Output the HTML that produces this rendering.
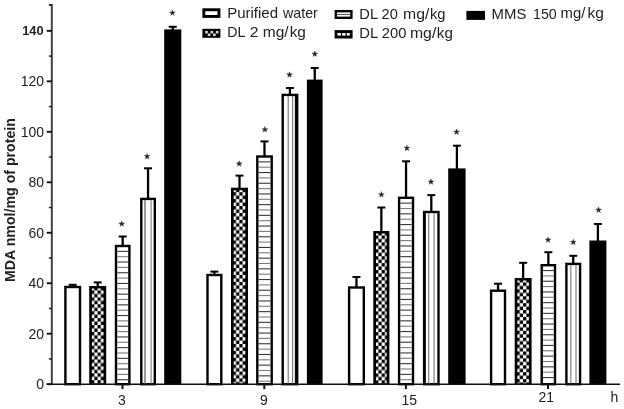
<!DOCTYPE html>
<html><head><meta charset="utf-8"><title>MDA chart</title>
<style>html,body{margin:0;padding:0;background:#fff;}body{width:624px;height:409px;overflow:hidden;}svg{display:block;}text{font-family:"Liberation Sans",sans-serif;fill:#222;}</style>
</head><body>
<svg width="624" height="409" viewBox="0 0 624 409">
<defs>
<pattern id="chk" width="6.6" height="6.9" patternUnits="userSpaceOnUse" x="-0.95" y="-5.0"><rect width="6.6" height="6.9" fill="#fff"/><rect x="0" y="0" width="3.3" height="3.45" fill="#000"/><rect x="3.3" y="3.45" width="3.3" height="3.45" fill="#000"/></pattern>
</defs>
<rect width="624" height="409" fill="#fff"/>
<g style="opacity:0.999">
<line x1="72.70" y1="284.80" x2="72.70" y2="286.80" stroke="#000" stroke-width="2.3"/>
<line x1="68.70" y1="284.80" x2="76.70" y2="284.80" stroke="#000" stroke-width="2"/>
<rect x="65.40" y="287.00" width="14.60" height="97.20" fill="#fff" stroke="#000" stroke-width="2.4"/>
<line x1="97.70" y1="282.40" x2="97.70" y2="287.00" stroke="#000" stroke-width="2.3"/>
<line x1="93.70" y1="282.40" x2="101.70" y2="282.40" stroke="#000" stroke-width="2"/>
<rect x="89.20" y="286.00" width="17.00" height="98.20" fill="#000"/>
<svg x="91.90" y="288.60" width="11.60" height="95.00" overflow="hidden"><rect x="-2" y="-6" width="30" height="400" fill="url(#chk)"/></svg>
<line x1="122.70" y1="236.50" x2="122.70" y2="245.80" stroke="#000" stroke-width="2.3"/>
<line x1="118.70" y1="236.50" x2="126.70" y2="236.50" stroke="#000" stroke-width="2"/>
<rect x="116.00" y="246.00" width="13.40" height="138.20" fill="#fff" stroke="#000" stroke-width="2.4"/>
<line x1="117.20" y1="251.35" x2="128.20" y2="251.35" stroke="#383838" stroke-width="1.1"/>
<line x1="117.20" y1="256.70" x2="128.20" y2="256.70" stroke="#7a7a7a" stroke-width="1.1"/>
<line x1="117.20" y1="262.05" x2="128.20" y2="262.05" stroke="#383838" stroke-width="1.1"/>
<line x1="117.20" y1="267.40" x2="128.20" y2="267.40" stroke="#7a7a7a" stroke-width="1.1"/>
<line x1="117.20" y1="272.75" x2="128.20" y2="272.75" stroke="#383838" stroke-width="1.1"/>
<line x1="117.20" y1="278.10" x2="128.20" y2="278.10" stroke="#7a7a7a" stroke-width="1.1"/>
<line x1="117.20" y1="283.45" x2="128.20" y2="283.45" stroke="#383838" stroke-width="1.1"/>
<line x1="117.20" y1="288.80" x2="128.20" y2="288.80" stroke="#7a7a7a" stroke-width="1.1"/>
<line x1="117.20" y1="294.15" x2="128.20" y2="294.15" stroke="#383838" stroke-width="1.1"/>
<line x1="117.20" y1="299.50" x2="128.20" y2="299.50" stroke="#7a7a7a" stroke-width="1.1"/>
<line x1="117.20" y1="304.85" x2="128.20" y2="304.85" stroke="#383838" stroke-width="1.1"/>
<line x1="117.20" y1="310.20" x2="128.20" y2="310.20" stroke="#7a7a7a" stroke-width="1.1"/>
<line x1="117.20" y1="315.55" x2="128.20" y2="315.55" stroke="#383838" stroke-width="1.1"/>
<line x1="117.20" y1="320.90" x2="128.20" y2="320.90" stroke="#7a7a7a" stroke-width="1.1"/>
<line x1="117.20" y1="326.25" x2="128.20" y2="326.25" stroke="#383838" stroke-width="1.1"/>
<line x1="117.20" y1="331.60" x2="128.20" y2="331.60" stroke="#7a7a7a" stroke-width="1.1"/>
<line x1="117.20" y1="336.95" x2="128.20" y2="336.95" stroke="#383838" stroke-width="1.1"/>
<line x1="117.20" y1="342.30" x2="128.20" y2="342.30" stroke="#7a7a7a" stroke-width="1.1"/>
<line x1="117.20" y1="347.65" x2="128.20" y2="347.65" stroke="#383838" stroke-width="1.1"/>
<line x1="117.20" y1="353.00" x2="128.20" y2="353.00" stroke="#7a7a7a" stroke-width="1.1"/>
<line x1="117.20" y1="358.35" x2="128.20" y2="358.35" stroke="#383838" stroke-width="1.1"/>
<line x1="117.20" y1="363.70" x2="128.20" y2="363.70" stroke="#7a7a7a" stroke-width="1.1"/>
<line x1="117.20" y1="369.05" x2="128.20" y2="369.05" stroke="#383838" stroke-width="1.1"/>
<line x1="117.20" y1="374.40" x2="128.20" y2="374.40" stroke="#7a7a7a" stroke-width="1.1"/>
<line x1="117.20" y1="379.75" x2="128.20" y2="379.75" stroke="#383838" stroke-width="1.1"/>
<polygon points="121.70,220.90 122.41,222.93 124.55,222.97 122.84,224.27 123.46,226.33 121.70,225.10 119.94,226.33 120.56,224.27 118.85,222.97 120.99,222.93" fill="#262626" stroke="#262626" stroke-width="0.4" stroke-linejoin="round"/>
<line x1="148.05" y1="168.30" x2="148.05" y2="198.70" stroke="#000" stroke-width="2.3"/>
<line x1="144.05" y1="168.30" x2="152.05" y2="168.30" stroke="#000" stroke-width="2"/>
<rect x="141.30" y="198.90" width="13.50" height="185.30" fill="#fff" stroke="#000" stroke-width="2.4"/>
<line x1="145.00" y1="200.10" x2="145.00" y2="384.20" stroke="#8a8a8a" stroke-width="1.7"/>
<line x1="151.10" y1="200.10" x2="151.10" y2="384.20" stroke="#777" stroke-width="1.0"/>
<polygon points="147.10,153.50 147.81,155.53 149.95,155.57 148.24,156.87 148.86,158.93 147.10,157.70 145.34,158.93 145.96,156.87 144.25,155.57 146.39,155.53" fill="#262626" stroke="#262626" stroke-width="0.4" stroke-linejoin="round"/>
<line x1="172.75" y1="26.80" x2="172.75" y2="30.40" stroke="#000" stroke-width="2.3"/>
<line x1="168.75" y1="26.80" x2="176.75" y2="26.80" stroke="#000" stroke-width="2"/>
<rect x="164.20" y="29.40" width="17.10" height="354.80" fill="#000"/>
<polygon points="172.40,9.90 173.11,11.93 175.25,11.97 173.54,13.27 174.16,15.33 172.40,14.10 170.64,15.33 171.26,13.27 169.55,11.97 171.69,11.93" fill="#262626" stroke="#262626" stroke-width="0.4" stroke-linejoin="round"/>
<line x1="214.40" y1="271.60" x2="214.40" y2="274.80" stroke="#000" stroke-width="2.3"/>
<line x1="210.40" y1="271.60" x2="218.40" y2="271.60" stroke="#000" stroke-width="2"/>
<rect x="207.50" y="275.00" width="13.80" height="109.20" fill="#fff" stroke="#000" stroke-width="2.4"/>
<line x1="239.50" y1="175.60" x2="239.50" y2="188.70" stroke="#000" stroke-width="2.3"/>
<line x1="235.50" y1="175.60" x2="243.50" y2="175.60" stroke="#000" stroke-width="2"/>
<rect x="231.00" y="187.70" width="17.00" height="196.50" fill="#000"/>
<svg x="233.70" y="190.30" width="11.60" height="193.30" overflow="hidden"><rect x="-2" y="-6" width="30" height="400" fill="url(#chk)"/></svg>
<polygon points="239.20,160.80 239.91,162.83 242.05,162.87 240.34,164.17 240.96,166.23 239.20,165.00 237.44,166.23 238.06,164.17 236.35,162.87 238.49,162.83" fill="#262626" stroke="#262626" stroke-width="0.4" stroke-linejoin="round"/>
<line x1="264.50" y1="141.40" x2="264.50" y2="156.30" stroke="#000" stroke-width="2.3"/>
<line x1="260.50" y1="141.40" x2="268.50" y2="141.40" stroke="#000" stroke-width="2"/>
<rect x="257.30" y="156.50" width="14.40" height="227.70" fill="#fff" stroke="#000" stroke-width="2.4"/>
<line x1="258.50" y1="161.85" x2="270.50" y2="161.85" stroke="#383838" stroke-width="1.1"/>
<line x1="258.50" y1="167.20" x2="270.50" y2="167.20" stroke="#7a7a7a" stroke-width="1.1"/>
<line x1="258.50" y1="172.55" x2="270.50" y2="172.55" stroke="#383838" stroke-width="1.1"/>
<line x1="258.50" y1="177.90" x2="270.50" y2="177.90" stroke="#7a7a7a" stroke-width="1.1"/>
<line x1="258.50" y1="183.25" x2="270.50" y2="183.25" stroke="#383838" stroke-width="1.1"/>
<line x1="258.50" y1="188.60" x2="270.50" y2="188.60" stroke="#7a7a7a" stroke-width="1.1"/>
<line x1="258.50" y1="193.95" x2="270.50" y2="193.95" stroke="#383838" stroke-width="1.1"/>
<line x1="258.50" y1="199.30" x2="270.50" y2="199.30" stroke="#7a7a7a" stroke-width="1.1"/>
<line x1="258.50" y1="204.65" x2="270.50" y2="204.65" stroke="#383838" stroke-width="1.1"/>
<line x1="258.50" y1="210.00" x2="270.50" y2="210.00" stroke="#7a7a7a" stroke-width="1.1"/>
<line x1="258.50" y1="215.35" x2="270.50" y2="215.35" stroke="#383838" stroke-width="1.1"/>
<line x1="258.50" y1="220.70" x2="270.50" y2="220.70" stroke="#7a7a7a" stroke-width="1.1"/>
<line x1="258.50" y1="226.05" x2="270.50" y2="226.05" stroke="#383838" stroke-width="1.1"/>
<line x1="258.50" y1="231.40" x2="270.50" y2="231.40" stroke="#7a7a7a" stroke-width="1.1"/>
<line x1="258.50" y1="236.75" x2="270.50" y2="236.75" stroke="#383838" stroke-width="1.1"/>
<line x1="258.50" y1="242.10" x2="270.50" y2="242.10" stroke="#7a7a7a" stroke-width="1.1"/>
<line x1="258.50" y1="247.45" x2="270.50" y2="247.45" stroke="#383838" stroke-width="1.1"/>
<line x1="258.50" y1="252.80" x2="270.50" y2="252.80" stroke="#7a7a7a" stroke-width="1.1"/>
<line x1="258.50" y1="258.15" x2="270.50" y2="258.15" stroke="#383838" stroke-width="1.1"/>
<line x1="258.50" y1="263.50" x2="270.50" y2="263.50" stroke="#7a7a7a" stroke-width="1.1"/>
<line x1="258.50" y1="268.85" x2="270.50" y2="268.85" stroke="#383838" stroke-width="1.1"/>
<line x1="258.50" y1="274.20" x2="270.50" y2="274.20" stroke="#7a7a7a" stroke-width="1.1"/>
<line x1="258.50" y1="279.55" x2="270.50" y2="279.55" stroke="#383838" stroke-width="1.1"/>
<line x1="258.50" y1="284.90" x2="270.50" y2="284.90" stroke="#7a7a7a" stroke-width="1.1"/>
<line x1="258.50" y1="290.25" x2="270.50" y2="290.25" stroke="#383838" stroke-width="1.1"/>
<line x1="258.50" y1="295.60" x2="270.50" y2="295.60" stroke="#7a7a7a" stroke-width="1.1"/>
<line x1="258.50" y1="300.95" x2="270.50" y2="300.95" stroke="#383838" stroke-width="1.1"/>
<line x1="258.50" y1="306.30" x2="270.50" y2="306.30" stroke="#7a7a7a" stroke-width="1.1"/>
<line x1="258.50" y1="311.65" x2="270.50" y2="311.65" stroke="#383838" stroke-width="1.1"/>
<line x1="258.50" y1="317.00" x2="270.50" y2="317.00" stroke="#7a7a7a" stroke-width="1.1"/>
<line x1="258.50" y1="322.35" x2="270.50" y2="322.35" stroke="#383838" stroke-width="1.1"/>
<line x1="258.50" y1="327.70" x2="270.50" y2="327.70" stroke="#7a7a7a" stroke-width="1.1"/>
<line x1="258.50" y1="333.05" x2="270.50" y2="333.05" stroke="#383838" stroke-width="1.1"/>
<line x1="258.50" y1="338.40" x2="270.50" y2="338.40" stroke="#7a7a7a" stroke-width="1.1"/>
<line x1="258.50" y1="343.75" x2="270.50" y2="343.75" stroke="#383838" stroke-width="1.1"/>
<line x1="258.50" y1="349.10" x2="270.50" y2="349.10" stroke="#7a7a7a" stroke-width="1.1"/>
<line x1="258.50" y1="354.45" x2="270.50" y2="354.45" stroke="#383838" stroke-width="1.1"/>
<line x1="258.50" y1="359.80" x2="270.50" y2="359.80" stroke="#7a7a7a" stroke-width="1.1"/>
<line x1="258.50" y1="365.15" x2="270.50" y2="365.15" stroke="#383838" stroke-width="1.1"/>
<line x1="258.50" y1="370.50" x2="270.50" y2="370.50" stroke="#7a7a7a" stroke-width="1.1"/>
<line x1="258.50" y1="375.85" x2="270.50" y2="375.85" stroke="#383838" stroke-width="1.1"/>
<line x1="258.50" y1="381.20" x2="270.50" y2="381.20" stroke="#7a7a7a" stroke-width="1.1"/>
<polygon points="264.90,126.60 265.61,128.63 267.75,128.67 266.04,129.97 266.66,132.03 264.90,130.80 263.14,132.03 263.76,129.97 262.05,128.67 264.19,128.63" fill="#262626" stroke="#262626" stroke-width="0.4" stroke-linejoin="round"/>
<line x1="289.95" y1="88.00" x2="289.95" y2="94.70" stroke="#000" stroke-width="2.3"/>
<line x1="285.95" y1="88.00" x2="293.95" y2="88.00" stroke="#000" stroke-width="2"/>
<rect x="282.70" y="94.90" width="14.50" height="289.30" fill="#fff" stroke="#000" stroke-width="2.4"/>
<line x1="288.20" y1="96.10" x2="288.20" y2="384.20" stroke="#777" stroke-width="1.1"/>
<line x1="292.60" y1="96.10" x2="292.60" y2="384.20" stroke="#777" stroke-width="1.1"/>
<line x1="295.40" y1="96.10" x2="295.40" y2="384.20" stroke="#000" stroke-width="1.1"/>
<polygon points="289.50,71.80 290.21,73.83 292.35,73.87 290.64,75.17 291.26,77.23 289.50,76.00 287.74,77.23 288.36,75.17 286.65,73.87 288.79,73.83" fill="#262626" stroke="#262626" stroke-width="0.4" stroke-linejoin="round"/>
<line x1="314.75" y1="68.00" x2="314.75" y2="80.60" stroke="#000" stroke-width="2.3"/>
<line x1="310.75" y1="68.00" x2="318.75" y2="68.00" stroke="#000" stroke-width="2"/>
<rect x="306.90" y="79.60" width="15.70" height="304.60" fill="#000"/>
<polygon points="314.80,51.00 315.51,53.03 317.65,53.07 315.94,54.37 316.56,56.43 314.80,55.20 313.04,56.43 313.66,54.37 311.95,53.07 314.09,53.03" fill="#262626" stroke="#262626" stroke-width="0.4" stroke-linejoin="round"/>
<line x1="356.45" y1="277.00" x2="356.45" y2="287.30" stroke="#000" stroke-width="2.3"/>
<line x1="352.45" y1="277.00" x2="360.45" y2="277.00" stroke="#000" stroke-width="2"/>
<rect x="349.10" y="287.50" width="14.70" height="96.70" fill="#fff" stroke="#000" stroke-width="2.4"/>
<line x1="381.35" y1="207.50" x2="381.35" y2="232.00" stroke="#000" stroke-width="2.3"/>
<line x1="377.35" y1="207.50" x2="385.35" y2="207.50" stroke="#000" stroke-width="2"/>
<rect x="373.30" y="231.00" width="16.10" height="153.20" fill="#000"/>
<svg x="376.00" y="233.60" width="10.70" height="150.00" overflow="hidden"><rect x="-2" y="-6" width="30" height="400" fill="url(#chk)"/></svg>
<polygon points="381.40,191.60 382.11,193.63 384.25,193.67 382.54,194.97 383.16,197.03 381.40,195.80 379.64,197.03 380.26,194.97 378.55,193.67 380.69,193.63" fill="#262626" stroke="#262626" stroke-width="0.4" stroke-linejoin="round"/>
<line x1="406.05" y1="161.30" x2="406.05" y2="197.60" stroke="#000" stroke-width="2.3"/>
<line x1="402.05" y1="161.30" x2="410.05" y2="161.30" stroke="#000" stroke-width="2"/>
<rect x="399.10" y="197.80" width="13.90" height="186.40" fill="#fff" stroke="#000" stroke-width="2.4"/>
<line x1="400.30" y1="203.15" x2="411.80" y2="203.15" stroke="#383838" stroke-width="1.1"/>
<line x1="400.30" y1="208.50" x2="411.80" y2="208.50" stroke="#7a7a7a" stroke-width="1.1"/>
<line x1="400.30" y1="213.85" x2="411.80" y2="213.85" stroke="#383838" stroke-width="1.1"/>
<line x1="400.30" y1="219.20" x2="411.80" y2="219.20" stroke="#7a7a7a" stroke-width="1.1"/>
<line x1="400.30" y1="224.55" x2="411.80" y2="224.55" stroke="#383838" stroke-width="1.1"/>
<line x1="400.30" y1="229.90" x2="411.80" y2="229.90" stroke="#7a7a7a" stroke-width="1.1"/>
<line x1="400.30" y1="235.25" x2="411.80" y2="235.25" stroke="#383838" stroke-width="1.1"/>
<line x1="400.30" y1="240.60" x2="411.80" y2="240.60" stroke="#7a7a7a" stroke-width="1.1"/>
<line x1="400.30" y1="245.95" x2="411.80" y2="245.95" stroke="#383838" stroke-width="1.1"/>
<line x1="400.30" y1="251.30" x2="411.80" y2="251.30" stroke="#7a7a7a" stroke-width="1.1"/>
<line x1="400.30" y1="256.65" x2="411.80" y2="256.65" stroke="#383838" stroke-width="1.1"/>
<line x1="400.30" y1="262.00" x2="411.80" y2="262.00" stroke="#7a7a7a" stroke-width="1.1"/>
<line x1="400.30" y1="267.35" x2="411.80" y2="267.35" stroke="#383838" stroke-width="1.1"/>
<line x1="400.30" y1="272.70" x2="411.80" y2="272.70" stroke="#7a7a7a" stroke-width="1.1"/>
<line x1="400.30" y1="278.05" x2="411.80" y2="278.05" stroke="#383838" stroke-width="1.1"/>
<line x1="400.30" y1="283.40" x2="411.80" y2="283.40" stroke="#7a7a7a" stroke-width="1.1"/>
<line x1="400.30" y1="288.75" x2="411.80" y2="288.75" stroke="#383838" stroke-width="1.1"/>
<line x1="400.30" y1="294.10" x2="411.80" y2="294.10" stroke="#7a7a7a" stroke-width="1.1"/>
<line x1="400.30" y1="299.45" x2="411.80" y2="299.45" stroke="#383838" stroke-width="1.1"/>
<line x1="400.30" y1="304.80" x2="411.80" y2="304.80" stroke="#7a7a7a" stroke-width="1.1"/>
<line x1="400.30" y1="310.15" x2="411.80" y2="310.15" stroke="#383838" stroke-width="1.1"/>
<line x1="400.30" y1="315.50" x2="411.80" y2="315.50" stroke="#7a7a7a" stroke-width="1.1"/>
<line x1="400.30" y1="320.85" x2="411.80" y2="320.85" stroke="#383838" stroke-width="1.1"/>
<line x1="400.30" y1="326.20" x2="411.80" y2="326.20" stroke="#7a7a7a" stroke-width="1.1"/>
<line x1="400.30" y1="331.55" x2="411.80" y2="331.55" stroke="#383838" stroke-width="1.1"/>
<line x1="400.30" y1="336.90" x2="411.80" y2="336.90" stroke="#7a7a7a" stroke-width="1.1"/>
<line x1="400.30" y1="342.25" x2="411.80" y2="342.25" stroke="#383838" stroke-width="1.1"/>
<line x1="400.30" y1="347.60" x2="411.80" y2="347.60" stroke="#7a7a7a" stroke-width="1.1"/>
<line x1="400.30" y1="352.95" x2="411.80" y2="352.95" stroke="#383838" stroke-width="1.1"/>
<line x1="400.30" y1="358.30" x2="411.80" y2="358.30" stroke="#7a7a7a" stroke-width="1.1"/>
<line x1="400.30" y1="363.65" x2="411.80" y2="363.65" stroke="#383838" stroke-width="1.1"/>
<line x1="400.30" y1="369.00" x2="411.80" y2="369.00" stroke="#7a7a7a" stroke-width="1.1"/>
<line x1="400.30" y1="374.35" x2="411.80" y2="374.35" stroke="#383838" stroke-width="1.1"/>
<line x1="400.30" y1="379.70" x2="411.80" y2="379.70" stroke="#7a7a7a" stroke-width="1.1"/>
<polygon points="406.90,145.20 407.61,147.23 409.75,147.27 408.04,148.57 408.66,150.63 406.90,149.40 405.14,150.63 405.76,148.57 404.05,147.27 406.19,147.23" fill="#262626" stroke="#262626" stroke-width="0.4" stroke-linejoin="round"/>
<line x1="431.30" y1="195.10" x2="431.30" y2="211.80" stroke="#000" stroke-width="2.3"/>
<line x1="427.30" y1="195.10" x2="435.30" y2="195.10" stroke="#000" stroke-width="2"/>
<rect x="424.10" y="212.00" width="14.40" height="172.20" fill="#fff" stroke="#000" stroke-width="2.4"/>
<line x1="425.50" y1="213.20" x2="425.50" y2="384.20" stroke="#000" stroke-width="0.8"/>
<line x1="428.70" y1="213.20" x2="428.70" y2="384.20" stroke="#777" stroke-width="1.1"/>
<line x1="434.10" y1="213.20" x2="434.10" y2="384.20" stroke="#777" stroke-width="1.1"/>
<polygon points="431.00,178.90 431.71,180.93 433.85,180.97 432.14,182.27 432.76,184.33 431.00,183.10 429.24,184.33 429.86,182.27 428.15,180.97 430.29,180.93" fill="#262626" stroke="#262626" stroke-width="0.4" stroke-linejoin="round"/>
<line x1="456.90" y1="145.70" x2="456.90" y2="169.40" stroke="#000" stroke-width="2.3"/>
<line x1="452.90" y1="145.70" x2="460.90" y2="145.70" stroke="#000" stroke-width="2"/>
<rect x="448.20" y="168.40" width="17.40" height="215.80" fill="#000"/>
<polygon points="456.60,129.00 457.31,131.03 459.45,131.07 457.74,132.37 458.36,134.43 456.60,133.20 454.84,134.43 455.46,132.37 453.75,131.07 455.89,131.03" fill="#262626" stroke="#262626" stroke-width="0.4" stroke-linejoin="round"/>
<line x1="498.05" y1="283.70" x2="498.05" y2="290.50" stroke="#000" stroke-width="2.3"/>
<line x1="494.05" y1="283.70" x2="502.05" y2="283.70" stroke="#000" stroke-width="2"/>
<rect x="491.10" y="290.70" width="13.90" height="93.50" fill="#fff" stroke="#000" stroke-width="2.4"/>
<line x1="523.15" y1="262.80" x2="523.15" y2="279.00" stroke="#000" stroke-width="2.3"/>
<line x1="519.15" y1="262.80" x2="527.15" y2="262.80" stroke="#000" stroke-width="2"/>
<rect x="514.70" y="278.00" width="16.90" height="106.20" fill="#000"/>
<svg x="517.40" y="280.60" width="11.50" height="103.00" overflow="hidden"><rect x="-2" y="-6" width="30" height="400" fill="url(#chk)"/></svg>
<line x1="548.35" y1="252.20" x2="548.35" y2="265.00" stroke="#000" stroke-width="2.3"/>
<line x1="544.35" y1="252.20" x2="552.35" y2="252.20" stroke="#000" stroke-width="2"/>
<rect x="541.70" y="265.20" width="13.30" height="119.00" fill="#fff" stroke="#000" stroke-width="2.4"/>
<line x1="542.90" y1="270.55" x2="553.80" y2="270.55" stroke="#383838" stroke-width="1.1"/>
<line x1="542.90" y1="275.90" x2="553.80" y2="275.90" stroke="#7a7a7a" stroke-width="1.1"/>
<line x1="542.90" y1="281.25" x2="553.80" y2="281.25" stroke="#383838" stroke-width="1.1"/>
<line x1="542.90" y1="286.60" x2="553.80" y2="286.60" stroke="#7a7a7a" stroke-width="1.1"/>
<line x1="542.90" y1="291.95" x2="553.80" y2="291.95" stroke="#383838" stroke-width="1.1"/>
<line x1="542.90" y1="297.30" x2="553.80" y2="297.30" stroke="#7a7a7a" stroke-width="1.1"/>
<line x1="542.90" y1="302.65" x2="553.80" y2="302.65" stroke="#383838" stroke-width="1.1"/>
<line x1="542.90" y1="308.00" x2="553.80" y2="308.00" stroke="#7a7a7a" stroke-width="1.1"/>
<line x1="542.90" y1="313.35" x2="553.80" y2="313.35" stroke="#383838" stroke-width="1.1"/>
<line x1="542.90" y1="318.70" x2="553.80" y2="318.70" stroke="#7a7a7a" stroke-width="1.1"/>
<line x1="542.90" y1="324.05" x2="553.80" y2="324.05" stroke="#383838" stroke-width="1.1"/>
<line x1="542.90" y1="329.40" x2="553.80" y2="329.40" stroke="#7a7a7a" stroke-width="1.1"/>
<line x1="542.90" y1="334.75" x2="553.80" y2="334.75" stroke="#383838" stroke-width="1.1"/>
<line x1="542.90" y1="340.10" x2="553.80" y2="340.10" stroke="#7a7a7a" stroke-width="1.1"/>
<line x1="542.90" y1="345.45" x2="553.80" y2="345.45" stroke="#383838" stroke-width="1.1"/>
<line x1="542.90" y1="350.80" x2="553.80" y2="350.80" stroke="#7a7a7a" stroke-width="1.1"/>
<line x1="542.90" y1="356.15" x2="553.80" y2="356.15" stroke="#383838" stroke-width="1.1"/>
<line x1="542.90" y1="361.50" x2="553.80" y2="361.50" stroke="#7a7a7a" stroke-width="1.1"/>
<line x1="542.90" y1="366.85" x2="553.80" y2="366.85" stroke="#383838" stroke-width="1.1"/>
<line x1="542.90" y1="372.20" x2="553.80" y2="372.20" stroke="#7a7a7a" stroke-width="1.1"/>
<line x1="542.90" y1="377.55" x2="553.80" y2="377.55" stroke="#383838" stroke-width="1.1"/>
<polygon points="548.10,236.90 548.81,238.93 550.95,238.97 549.24,240.27 549.86,242.33 548.10,241.10 546.34,242.33 546.96,240.27 545.25,238.97 547.39,238.93" fill="#262626" stroke="#262626" stroke-width="0.4" stroke-linejoin="round"/>
<line x1="573.25" y1="255.80" x2="573.25" y2="263.70" stroke="#000" stroke-width="2.3"/>
<line x1="569.25" y1="255.80" x2="577.25" y2="255.80" stroke="#000" stroke-width="2"/>
<rect x="566.40" y="263.90" width="13.70" height="120.30" fill="#fff" stroke="#000" stroke-width="2.4"/>
<line x1="570.80" y1="265.10" x2="570.80" y2="384.20" stroke="#777" stroke-width="1.1"/>
<line x1="576.00" y1="265.10" x2="576.00" y2="384.20" stroke="#777" stroke-width="1.1"/>
<polygon points="573.30,239.20 574.01,241.23 576.15,241.27 574.44,242.57 575.06,244.63 573.30,243.40 571.54,244.63 572.16,242.57 570.45,241.27 572.59,241.23" fill="#262626" stroke="#262626" stroke-width="0.4" stroke-linejoin="round"/>
<line x1="597.90" y1="224.00" x2="597.90" y2="241.50" stroke="#000" stroke-width="2.3"/>
<line x1="593.90" y1="224.00" x2="601.90" y2="224.00" stroke="#000" stroke-width="2"/>
<rect x="589.40" y="240.50" width="17.00" height="143.70" fill="#000"/>
<polygon points="598.60,207.00 599.31,209.03 601.45,209.07 599.74,210.37 600.36,212.43 598.60,211.20 596.84,212.43 597.46,210.37 595.75,209.07 597.89,209.03" fill="#262626" stroke="#262626" stroke-width="0.4" stroke-linejoin="round"/>
<line x1="51.8" y1="4" x2="51.8" y2="385.00" stroke="#3a3a3a" stroke-width="1.9"/>
<line x1="46.8" y1="384.2" x2="620" y2="384.2" stroke="#111" stroke-width="1.6"/>
<line x1="46.7" y1="384.20" x2="52" y2="384.20" stroke="#111" stroke-width="1.9"/>
<line x1="46.7" y1="333.72" x2="52" y2="333.72" stroke="#111" stroke-width="1.9"/>
<line x1="46.7" y1="283.24" x2="52" y2="283.24" stroke="#111" stroke-width="1.9"/>
<line x1="46.7" y1="232.76" x2="52" y2="232.76" stroke="#111" stroke-width="1.9"/>
<line x1="46.7" y1="182.28" x2="52" y2="182.28" stroke="#111" stroke-width="1.9"/>
<line x1="46.7" y1="131.80" x2="52" y2="131.80" stroke="#111" stroke-width="1.9"/>
<line x1="46.7" y1="81.32" x2="52" y2="81.32" stroke="#111" stroke-width="1.9"/>
<line x1="46.7" y1="30.84" x2="52" y2="30.84" stroke="#111" stroke-width="1.9"/>
<line x1="48.9" y1="358.96" x2="52" y2="358.96" stroke="#222" stroke-width="1.5"/>
<line x1="48.9" y1="308.48" x2="52" y2="308.48" stroke="#222" stroke-width="1.5"/>
<line x1="48.9" y1="258.00" x2="52" y2="258.00" stroke="#222" stroke-width="1.5"/>
<line x1="48.9" y1="207.52" x2="52" y2="207.52" stroke="#222" stroke-width="1.5"/>
<line x1="48.9" y1="157.04" x2="52" y2="157.04" stroke="#222" stroke-width="1.5"/>
<line x1="48.9" y1="106.56" x2="52" y2="106.56" stroke="#222" stroke-width="1.5"/>
<line x1="48.9" y1="56.08" x2="52" y2="56.08" stroke="#222" stroke-width="1.5"/>
<line x1="48.9" y1="4.90" x2="52" y2="4.90" stroke="#222" stroke-width="1.9"/>
<text x="44.0" y="389.10" font-size="14" text-anchor="end" fill="#333">0</text>
<text x="44.0" y="338.62" font-size="14" text-anchor="end" fill="#333">20</text>
<text x="44.0" y="288.14" font-size="14" text-anchor="end" fill="#333">40</text>
<text x="44.0" y="237.66" font-size="14" text-anchor="end" fill="#333">60</text>
<text x="44.0" y="187.18" font-size="14" text-anchor="end" fill="#333">80</text>
<text x="44.0" y="136.70" font-size="14" text-anchor="end" fill="#333">100</text>
<text x="44.0" y="86.22" font-size="14" text-anchor="end" fill="#333">120</text>
<text transform="translate(43.6,35.04) scale(1.07,1)" font-size="12" font-weight="bold" text-anchor="end" fill="#222">140</text>
<line x1="122.50" y1="384.2" x2="122.50" y2="389.1" stroke="#111" stroke-width="2"/>
<text x="122.00" y="404.7" font-size="14" text-anchor="middle" fill="#333">3</text>
<line x1="264.30" y1="384.2" x2="264.30" y2="389.1" stroke="#111" stroke-width="2"/>
<text x="264.00" y="404.6" font-size="14" text-anchor="middle" fill="#333">9</text>
<line x1="405.90" y1="384.2" x2="405.90" y2="389.1" stroke="#111" stroke-width="2"/>
<text x="409.30" y="404.7" font-size="14" text-anchor="middle" fill="#333">15</text>
<line x1="548.00" y1="384.2" x2="548.00" y2="389.1" stroke="#111" stroke-width="2"/>
<text x="546.30" y="402.2" font-size="14" text-anchor="middle" fill="#333">21</text>
<text x="614.3" y="402.2" font-size="14" text-anchor="middle" fill="#333">h</text>
<text transform="translate(15.2,200.0) rotate(-90) scale(1.012,1)" font-size="14" font-weight="bold" text-anchor="middle" fill="#111">MDA nmol/mg of protein</text>
<rect x="203.85" y="9.75" width="15.1" height="6.699999999999999" fill="#fff" stroke="#000" stroke-width="2.9"/>
<rect x="202.4" y="28.8" width="18" height="9.0" fill="#000"/>
<rect x="205.15" y="30.90" width="2.7" height="2.6" fill="#d0d0d0"/>
<rect x="210.45" y="30.90" width="2.7" height="2.6" fill="#d0d0d0"/>
<rect x="215.85" y="30.90" width="2.7" height="2.6" fill="#d0d0d0"/>
<rect x="207.75" y="33.50" width="2.7" height="2.6" fill="#d0d0d0"/>
<rect x="213.05" y="33.50" width="2.7" height="2.6" fill="#d0d0d0"/>
<rect x="335.8" y="11.2" width="15.6" height="6.6" fill="#fff" stroke="#000" stroke-width="2.4"/>
<line x1="337.0" y1="14.5" x2="350.20000000000005" y2="14.5" stroke="#555" stroke-width="1.1"/>
<rect x="336.05" y="31.55" width="15.1" height="5.5" fill="#fff" stroke="#000" stroke-width="2.9"/>
<line x1="341.5" y1="32.7" x2="341.5" y2="35.9" stroke="#000" stroke-width="1.2"/>
<line x1="346.20000000000005" y1="32.7" x2="346.20000000000005" y2="35.9" stroke="#000" stroke-width="1.2"/>
<rect x="466.4" y="10.9" width="18.6" height="9.0" fill="#000"/>
<text transform="translate(227.21,18.4) scale(1.034,0.975)" font-size="14.5" fill="#222">Purified</text>
<text transform="translate(283.08,18.4) scale(0.980,0.975)" font-size="14.5" fill="#222">water</text>
<text transform="translate(227.17,37.3) scale(0.980,0.975)" font-size="14.5" fill="#222">DL</text>
<text transform="translate(249.82,37.3) scale(1.090,0.975)" font-size="14.5" fill="#222">2</text>
<text transform="translate(262.73,37.3) scale(1.072,0.975)" font-size="14.5" fill="#222">mg/</text>
<text transform="translate(289.64,37.3) scale(1.062,0.975)" font-size="14.5" fill="#222">kg</text>
<text transform="translate(359.34,18.6) scale(1.009,0.975)" font-size="14.5" fill="#222">DL 20</text>
<text transform="translate(403.08,18.6) scale(1.090,0.975)" font-size="14.5" fill="#222">mg/</text>
<text transform="translate(429.98,18.6) scale(1.017,0.975)" font-size="14.5" fill="#222">kg</text>
<text transform="translate(359.32,38.2) scale(1.021,0.975)" font-size="14.5" fill="#222">DL 200</text>
<text transform="translate(409.96,38.2) scale(1.090,0.975)" font-size="14.5" fill="#222">mg/</text>
<text transform="translate(436.85,38.2) scale(1.047,0.975)" font-size="14.5" fill="#222">kg</text>
<text transform="translate(491.62,18.5) scale(1.026,0.975)" font-size="14.5" fill="#222">MMS</text>
<text transform="translate(533.02,18.5) scale(0.980,0.975)" font-size="14.5" fill="#222">150</text>
<text transform="translate(560.58,17.9) scale(1.025,0.975)" font-size="14.5" fill="#222">mg/</text>
<text transform="translate(587.43,17.9) scale(1.069,0.975)" font-size="14.5" fill="#222">kg</text>
</g>
</svg></body></html>
